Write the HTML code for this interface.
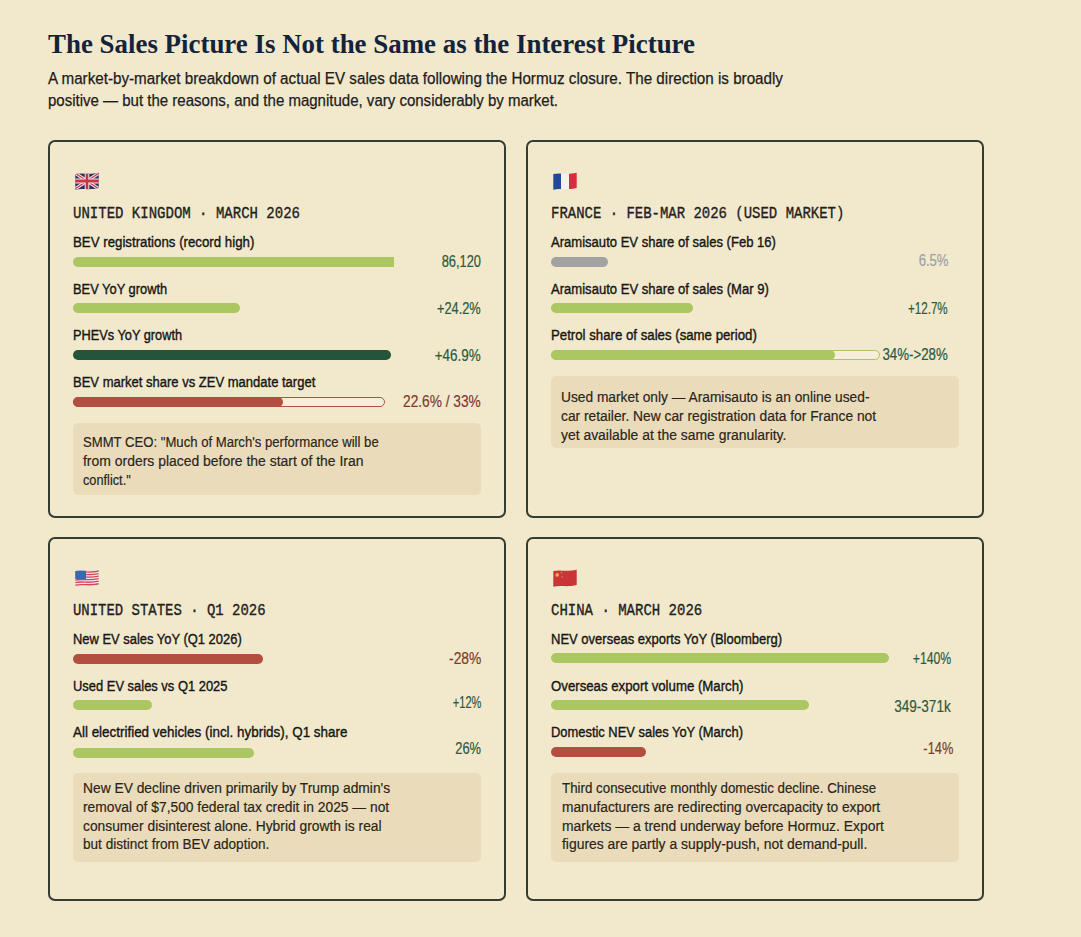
<!DOCTYPE html>
<html><head><meta charset="utf-8"><title>The Sales Picture Is Not the Same as the Interest Picture</title>
<style>
html,body{margin:0;padding:0;}
body{width:1081px;height:937px;background:#f2e8cc;position:relative;overflow:hidden;}
.t{position:absolute;white-space:nowrap;}
.r{position:absolute;}
</style></head><body>
<div class="t" style="left:48px;top:25px;font-family:'Liberation Serif', serif;font-size:27px;line-height:38px;color:#13243a;font-weight:700;transform:scale(0.9963,1.0);transform-origin:left 28px;">The Sales Picture Is Not the Same as the Interest Picture</div>
<div class="t" style="left:48px;top:66.6px;font-family:'Liberation Sans', sans-serif;font-size:16px;line-height:23px;color:#1c1c1c;font-weight:400;transform:scale(0.9492,1.0);transform-origin:left 17px;-webkit-text-stroke:0.25px #1c1c1c;">A market-by-market breakdown of actual EV sales data following the Hormuz closure. The direction is broadly</div>
<div class="t" style="left:48px;top:88.6px;font-family:'Liberation Sans', sans-serif;font-size:16px;line-height:23px;color:#1c1c1c;font-weight:400;transform:scale(0.9385,1.0);transform-origin:left 17px;-webkit-text-stroke:0.25px #1c1c1c;">positive — but the reasons, and the magnitude, vary considerably by market.</div>
<div class="r" style="left:48px;top:140px;width:458px;height:378px;background:#f2e9cd;border-radius:7px;border:2px solid #353c31;box-sizing:border-box;"></div>
<div class="r" style="left:75px;top:171.5px;width:24px;height:18px"><svg width="24" height="18" viewBox="0 0 24 17" preserveAspectRatio="none" style="display:block"><defs><clipPath id="cp1"><path d="M0.3,2 C7,0.2 13,3 23.7,0.6 L23.7,15.2 C13,17.6 7,14.8 0.3,16.8 Z"/></clipPath></defs><g clip-path="url(#cp1)"><rect width="24" height="17" fill="#2b2f5e"/><path d="M0,1 L24,16 M24,1 L0,16" stroke="#f1e6ea" stroke-width="3.2"/><path d="M0,1 L24,16 M24,1 L0,16" stroke="#c8344a" stroke-width="1.1"/><path d="M12,0 V17 M0,8.5 H24" stroke="#f1e6ea" stroke-width="4.6"/><path d="M12,0 V17 M0,8.5 H24" stroke="#cc3444" stroke-width="2.6"/></g></svg></div>
<div class="t" style="left:73px;top:203.8px;font-family:'Liberation Mono', monospace;font-size:14px;line-height:20px;color:#1f2220;font-weight:400;transform:scale(1.0007,1.16);transform-origin:left 14px;-webkit-text-stroke:0.3px #1f2220;">UNITED KINGDOM · MARCH 2026</div>
<div class="t" style="left:73px;top:230.6px;font-family:'Liberation Sans', sans-serif;font-size:15.5px;line-height:22px;color:#161614;font-weight:400;transform:scale(0.8555,1.0);transform-origin:left 16px;-webkit-text-stroke:0.4px #161614;">BEV registrations (record high)</div>
<div class="r" style="left:73px;top:256.5px;width:321px;height:10.0px;background:#aac762;border-radius:0px;border-radius:5px 0 0 5px;"></div>
<div class="t" style="right:600px;top:249.60000000000002px;font-family:'Liberation Sans', sans-serif;font-size:16px;line-height:23px;color:#2b5a3c;font-weight:400;transform:scale(0.8031,1.0);transform-origin:right 17px;-webkit-text-stroke:0.2px #2b5a3c;">86,120</div>
<div class="t" style="left:73px;top:277.7px;font-family:'Liberation Sans', sans-serif;font-size:15.5px;line-height:22px;color:#161614;font-weight:400;transform:scale(0.8302,1.0);transform-origin:left 16px;-webkit-text-stroke:0.4px #161614;">BEV YoY growth</div>
<div class="r" style="left:73px;top:303.4px;width:166.5px;height:10.0px;background:#aac762;border-radius:5px;"></div>
<div class="t" style="right:600px;top:297px;font-family:'Liberation Sans', sans-serif;font-size:16px;line-height:23px;color:#2b5a3c;font-weight:400;transform:scale(0.8005,1.0);transform-origin:right 17px;-webkit-text-stroke:0.2px #2b5a3c;">+24.2%</div>
<div class="t" style="left:73px;top:324.3px;font-family:'Liberation Sans', sans-serif;font-size:15.5px;line-height:22px;color:#161614;font-weight:400;transform:scale(0.8239,1.0);transform-origin:left 16px;-webkit-text-stroke:0.4px #161614;">PHEVs YoY growth</div>
<div class="r" style="left:73px;top:350px;width:318px;height:10px;background:#24543a;border-radius:5px;"></div>
<div class="t" style="right:600px;top:344px;font-family:'Liberation Sans', sans-serif;font-size:16px;line-height:23px;color:#2b5a3c;font-weight:400;transform:scale(0.8407,1.0);transform-origin:right 17px;-webkit-text-stroke:0.2px #2b5a3c;">+46.9%</div>
<div class="t" style="left:73px;top:371px;font-family:'Liberation Sans', sans-serif;font-size:15.5px;line-height:22px;color:#161614;font-weight:400;transform:scale(0.8395,1.0);transform-origin:left 16px;-webkit-text-stroke:0.4px #161614;">BEV market share vs ZEV mandate target</div>
<div class="r" style="left:73px;top:397px;width:311.5px;height:10px;background:#f6eed9;border-radius:5px;border:1.5px solid #b24f40;box-sizing:border-box;"></div>
<div class="r" style="left:73px;top:397px;width:210px;height:10px;background:#b24f40;border-radius:5px;"></div>
<div class="t" style="right:600px;top:390.2px;font-family:'Liberation Sans', sans-serif;font-size:16px;line-height:23px;color:#7d3a2f;font-weight:400;transform:scale(0.8563,1.0);transform-origin:right 17px;-webkit-text-stroke:0.2px #7d3a2f;">22.6% / 33%</div>
<div class="r" style="left:73px;top:422.6px;width:408px;height:72.19999999999999px;background:#eadcbb;border-radius:5px;"></div>
<div class="t" style="left:83.3px;top:430.7px;font-family:'Liberation Sans', sans-serif;font-size:15.5px;line-height:22px;color:#2b2519;font-weight:400;transform:scale(0.8466,1.0);transform-origin:left 16px;-webkit-text-stroke:0.2px #2b2519;">SMMT CEO: "Much of March's performance will be</div>
<div class="t" style="left:83.3px;top:449.7px;font-family:'Liberation Sans', sans-serif;font-size:15.5px;line-height:22px;color:#2b2519;font-weight:400;transform:scale(0.8994,1.0);transform-origin:left 16px;-webkit-text-stroke:0.2px #2b2519;">from orders placed before the start of the Iran</div>
<div class="t" style="left:83.3px;top:468.7px;font-family:'Liberation Sans', sans-serif;font-size:15.5px;line-height:22px;color:#2b2519;font-weight:400;transform:scale(0.8215,1.0);transform-origin:left 16px;-webkit-text-stroke:0.2px #2b2519;">conflict."</div>
<div class="r" style="left:526px;top:140px;width:458px;height:378px;background:#f2e9cd;border-radius:7px;border:2px solid #353c31;box-sizing:border-box;"></div>
<div class="r" style="left:553px;top:171.5px;width:24px;height:18px"><svg width="24" height="18" viewBox="0 0 24 17" preserveAspectRatio="none" style="display:block"><defs><clipPath id="cp2"><path d="M0.3,2 C7,0.2 13,3 23.7,0.6 L23.7,15.2 C13,17.6 7,14.8 0.3,16.8 Z"/></clipPath></defs><g clip-path="url(#cp2)"><rect width="8" height="17" fill="#23489a"/><rect x="8" width="8" height="17" fill="#f4f2f0"/><rect x="16" width="8" height="17" fill="#d42f3c"/></g></svg></div>
<div class="t" style="left:550.5px;top:203.8px;font-family:'Liberation Mono', monospace;font-size:14px;line-height:20px;color:#1f2220;font-weight:400;transform:scale(0.9974,1.16);transform-origin:left 14px;-webkit-text-stroke:0.3px #1f2220;">FRANCE · FEB-MAR 2026 (USED MARKET)</div>
<div class="t" style="left:550.5px;top:230.6px;font-family:'Liberation Sans', sans-serif;font-size:15.5px;line-height:22px;color:#161614;font-weight:400;transform:scale(0.8421,1.0);transform-origin:left 16px;-webkit-text-stroke:0.4px #161614;">Aramisauto EV share of sales (Feb 16)</div>
<div class="r" style="left:550.5px;top:256.7px;width:57.5px;height:10.0px;background:#a2a2a2;border-radius:5px;"></div>
<div class="t" style="right:132.79999999999995px;top:248.7px;font-family:'Liberation Sans', sans-serif;font-size:16px;line-height:23px;color:#9ba0a4;font-weight:400;transform:scale(0.8171,1.0);transform-origin:right 17px;-webkit-text-stroke:0.2px #9ba0a4;">6.5%</div>
<div class="t" style="left:550.5px;top:277.8px;font-family:'Liberation Sans', sans-serif;font-size:15.5px;line-height:22px;color:#161614;font-weight:400;transform:scale(0.8428,1.0);transform-origin:left 16px;-webkit-text-stroke:0.4px #161614;">Aramisauto EV share of sales (Mar 9)</div>
<div class="r" style="left:550.5px;top:303.4px;width:142.20000000000005px;height:10.0px;background:#aac762;border-radius:5px;"></div>
<div class="t" style="right:132.79999999999995px;top:296.5px;font-family:'Liberation Sans', sans-serif;font-size:16px;line-height:23px;color:#2b5a3c;font-weight:400;transform:scale(0.7274,1.0);transform-origin:right 17px;-webkit-text-stroke:0.2px #2b5a3c;">+12.7%</div>
<div class="t" style="left:550.5px;top:324.3px;font-family:'Liberation Sans', sans-serif;font-size:15.5px;line-height:22px;color:#161614;font-weight:400;transform:scale(0.8532,1.0);transform-origin:left 16px;-webkit-text-stroke:0.4px #161614;">Petrol share of sales (same period)</div>
<div class="r" style="left:550.5px;top:350px;width:329.5px;height:10px;background:#f6eed9;border-radius:5px;border:1.5px solid #aac762;box-sizing:border-box;"></div>
<div class="r" style="left:550.5px;top:350px;width:284.5px;height:10px;background:#aac762;border-radius:5px;"></div>
<div class="t" style="right:133px;top:342.6px;font-family:'Liberation Sans', sans-serif;font-size:16px;line-height:23px;color:#2b5a3c;font-weight:400;transform:scale(0.8295,1.0);transform-origin:right 17px;-webkit-text-stroke:0.2px #2b5a3c;">34%-&gt;28%</div>
<div class="r" style="left:550.5px;top:375.8px;width:408.0px;height:72.09999999999997px;background:#eadcbb;border-radius:5px;"></div>
<div class="t" style="left:561.1px;top:386.2px;font-family:'Liberation Sans', sans-serif;font-size:15.5px;line-height:22px;color:#2b2519;font-weight:400;transform:scale(0.8863,1.0);transform-origin:left 16px;-webkit-text-stroke:0.2px #2b2519;">Used market only — Aramisauto is an online used-</div>
<div class="t" style="left:561.1px;top:405.2px;font-family:'Liberation Sans', sans-serif;font-size:15.5px;line-height:22px;color:#2b2519;font-weight:400;transform:scale(0.8899,1.0);transform-origin:left 16px;-webkit-text-stroke:0.2px #2b2519;">car retailer. New car registration data for France not</div>
<div class="t" style="left:561.1px;top:424.2px;font-family:'Liberation Sans', sans-serif;font-size:15.5px;line-height:22px;color:#2b2519;font-weight:400;transform:scale(0.8969,1.0);transform-origin:left 16px;-webkit-text-stroke:0.2px #2b2519;">yet available at the same granularity.</div>
<div class="r" style="left:48px;top:537px;width:458px;height:364px;background:#f2e9cd;border-radius:7px;border:2px solid #353c31;box-sizing:border-box;"></div>
<div class="r" style="left:75px;top:568.5px;width:24px;height:18px"><svg width="24" height="18" viewBox="0 0 24 17" preserveAspectRatio="none" style="display:block"><defs><clipPath id="cp3"><path d="M0.3,2 C7,0.2 13,3 23.7,0.6 L23.7,15.2 C13,17.6 7,14.8 0.3,16.8 Z"/></clipPath></defs><g clip-path="url(#cp3)"><rect width="24" height="17" fill="#f4e8ea"/><path d="M0,0.90 C7,-0.90 13,1.90 24,-0.50" stroke="#cf4a55" stroke-width="1.25" fill="none"/><path d="M0,3.30 C7,1.50 13,4.30 24,1.90" stroke="#cf4a55" stroke-width="1.25" fill="none"/><path d="M0,5.70 C7,3.90 13,6.70 24,4.30" stroke="#cf4a55" stroke-width="1.25" fill="none"/><path d="M0,8.10 C7,6.30 13,9.10 24,6.70" stroke="#cf4a55" stroke-width="1.25" fill="none"/><path d="M0,10.50 C7,8.70 13,11.50 24,9.10" stroke="#cf4a55" stroke-width="1.25" fill="none"/><path d="M0,12.90 C7,11.10 13,13.90 24,11.50" stroke="#cf4a55" stroke-width="1.25" fill="none"/><path d="M0,15.30 C7,13.50 13,16.30 24,13.90" stroke="#cf4a55" stroke-width="1.25" fill="none"/><path d="M0,17.70 C7,15.90 13,18.70 24,16.30" stroke="#cf4a55" stroke-width="1.25" fill="none"/><rect x="0" y="0" width="11" height="9.6" fill="#3d68ab"/></g></svg></div>
<div class="t" style="left:73px;top:601.2px;font-family:'Liberation Mono', monospace;font-size:14px;line-height:20px;color:#1f2220;font-weight:400;transform:scale(0.9962,1.16);transform-origin:left 14px;-webkit-text-stroke:0.3px #1f2220;">UNITED STATES · Q1 2026</div>
<div class="t" style="left:73px;top:627.8px;font-family:'Liberation Sans', sans-serif;font-size:15.5px;line-height:22px;color:#161614;font-weight:400;transform:scale(0.8343,1.0);transform-origin:left 16px;-webkit-text-stroke:0.4px #161614;">New EV sales YoY (Q1 2026)</div>
<div class="r" style="left:73px;top:653.6px;width:189.5px;height:10.0px;background:#b24f40;border-radius:5px;"></div>
<div class="t" style="right:600px;top:646.9px;font-family:'Liberation Sans', sans-serif;font-size:16px;line-height:23px;color:#7d3a2f;font-weight:400;transform:scale(0.8646,1.0);transform-origin:right 17px;-webkit-text-stroke:0.2px #7d3a2f;">-28%</div>
<div class="t" style="left:73px;top:674.5px;font-family:'Liberation Sans', sans-serif;font-size:15.5px;line-height:22px;color:#161614;font-weight:400;transform:scale(0.834,1.0);transform-origin:left 16px;-webkit-text-stroke:0.4px #161614;">Used EV sales vs Q1 2025</div>
<div class="r" style="left:73px;top:700px;width:79px;height:10px;background:#aac762;border-radius:5px;"></div>
<div class="t" style="right:600px;top:690.7px;font-family:'Liberation Sans', sans-serif;font-size:16px;line-height:23px;color:#2b5a3c;font-weight:400;transform:scale(0.6912,1.0);transform-origin:right 17px;-webkit-text-stroke:0.2px #2b5a3c;">+12%</div>
<div class="t" style="left:73px;top:720.6px;font-family:'Liberation Sans', sans-serif;font-size:15.5px;line-height:22px;color:#161614;font-weight:400;transform:scale(0.8656,1.0);transform-origin:left 16px;-webkit-text-stroke:0.4px #161614;">All electrified vehicles (incl. hybrids), Q1 share</div>
<div class="r" style="left:73px;top:748px;width:180.7px;height:10px;background:#aac762;border-radius:5px;"></div>
<div class="t" style="right:600px;top:737px;font-family:'Liberation Sans', sans-serif;font-size:16px;line-height:23px;color:#2b5a3c;font-weight:400;transform:scale(0.8055,1.0);transform-origin:right 17px;-webkit-text-stroke:0.2px #2b5a3c;">26%</div>
<div class="r" style="left:73px;top:772.6px;width:408px;height:89.89999999999998px;background:#eadcbb;border-radius:5px;"></div>
<div class="t" style="left:83.4px;top:776.9px;font-family:'Liberation Sans', sans-serif;font-size:15.5px;line-height:22px;color:#2b2519;font-weight:400;transform:scale(0.8903,1.0);transform-origin:left 16px;-webkit-text-stroke:0.2px #2b2519;">New EV decline driven primarily by Trump admin's</div>
<div class="t" style="left:83.4px;top:795.6999999999999px;font-family:'Liberation Sans', sans-serif;font-size:15.5px;line-height:22px;color:#2b2519;font-weight:400;transform:scale(0.8906,1.0);transform-origin:left 16px;-webkit-text-stroke:0.2px #2b2519;">removal of $7,500 federal tax credit in 2025 — not</div>
<div class="t" style="left:83.4px;top:814.5px;font-family:'Liberation Sans', sans-serif;font-size:15.5px;line-height:22px;color:#2b2519;font-weight:400;transform:scale(0.891,1.0);transform-origin:left 16px;-webkit-text-stroke:0.2px #2b2519;">consumer disinterest alone. Hybrid growth is real</div>
<div class="t" style="left:83.4px;top:833.3px;font-family:'Liberation Sans', sans-serif;font-size:15.5px;line-height:22px;color:#2b2519;font-weight:400;transform:scale(0.8754,1.0);transform-origin:left 16px;-webkit-text-stroke:0.2px #2b2519;">but distinct from BEV adoption.</div>
<div class="r" style="left:526px;top:537px;width:458px;height:364px;background:#f2e9cd;border-radius:7px;border:2px solid #353c31;box-sizing:border-box;"></div>
<div class="r" style="left:553px;top:568.5px;width:24px;height:18px"><svg width="24" height="18" viewBox="0 0 24 17" preserveAspectRatio="none" style="display:block"><defs><clipPath id="cp4"><path d="M0.3,2 C7,0.2 13,3 23.7,0.6 L23.7,15.2 C13,17.6 7,14.8 0.3,16.8 Z"/></clipPath></defs><g clip-path="url(#cp4)"><rect width="24" height="17" fill="#c93436"/><circle cx="4.2" cy="5.6" r="1.8" fill="#f2a247"/><circle cx="8.3" cy="3.4" r="0.75" fill="#f08070"/><circle cx="9.5" cy="5.2" r="0.75" fill="#c05040"/><circle cx="9.2" cy="7.6" r="0.75" fill="#f08070"/></g></svg></div>
<div class="t" style="left:550.5px;top:601.2px;font-family:'Liberation Mono', monospace;font-size:14px;line-height:20px;color:#1f2220;font-weight:400;transform:scale(0.9998,1.16);transform-origin:left 14px;-webkit-text-stroke:0.3px #1f2220;">CHINA · MARCH 2026</div>
<div class="t" style="left:550.5px;top:627.8px;font-family:'Liberation Sans', sans-serif;font-size:15.5px;line-height:22px;color:#161614;font-weight:400;transform:scale(0.8394,1.0);transform-origin:left 16px;-webkit-text-stroke:0.4px #161614;">NEV overseas exports YoY (Bloomberg)</div>
<div class="r" style="left:550.5px;top:653.4px;width:338.29999999999995px;height:10.0px;background:#aac762;border-radius:5px;"></div>
<div class="t" style="right:129.89999999999998px;top:647px;font-family:'Liberation Sans', sans-serif;font-size:16px;line-height:23px;color:#2b5a3c;font-weight:400;transform:scale(0.7659,1.0);transform-origin:right 17px;-webkit-text-stroke:0.2px #2b5a3c;">+140%</div>
<div class="t" style="left:550.5px;top:674.5px;font-family:'Liberation Sans', sans-serif;font-size:15.5px;line-height:22px;color:#161614;font-weight:400;transform:scale(0.8529,1.0);transform-origin:left 16px;-webkit-text-stroke:0.4px #161614;">Overseas export volume (March)</div>
<div class="r" style="left:550.5px;top:700px;width:258.5px;height:10px;background:#aac762;border-radius:5px;"></div>
<div class="t" style="right:129.89999999999998px;top:695.1px;font-family:'Liberation Sans', sans-serif;font-size:16px;line-height:23px;color:#2b5a3c;font-weight:400;transform:scale(0.8468,1.0);transform-origin:right 17px;-webkit-text-stroke:0.2px #2b5a3c;">349-371k</div>
<div class="t" style="left:550.5px;top:720.5px;font-family:'Liberation Sans', sans-serif;font-size:15.5px;line-height:22px;color:#161614;font-weight:400;transform:scale(0.8327,1.0);transform-origin:left 16px;-webkit-text-stroke:0.4px #161614;">Domestic NEV sales YoY (March)</div>
<div class="r" style="left:550.5px;top:746.7px;width:95.29999999999995px;height:10.0px;background:#b24f40;border-radius:5px;"></div>
<div class="t" style="right:128px;top:736.6px;font-family:'Liberation Sans', sans-serif;font-size:16px;line-height:23px;color:#7d3a2f;font-weight:400;transform:scale(0.803,1.0);transform-origin:right 17px;-webkit-text-stroke:0.2px #7d3a2f;">-14%</div>
<div class="r" style="left:550.5px;top:772.6px;width:408.0px;height:89.89999999999998px;background:#eadcbb;border-radius:5px;"></div>
<div class="t" style="left:562.4px;top:776.9px;font-family:'Liberation Sans', sans-serif;font-size:15.5px;line-height:22px;color:#2b2519;font-weight:400;transform:scale(0.8598,1.0);transform-origin:left 16px;-webkit-text-stroke:0.2px #2b2519;">Third consecutive monthly domestic decline. Chinese</div>
<div class="t" style="left:562.4px;top:795.6999999999999px;font-family:'Liberation Sans', sans-serif;font-size:15.5px;line-height:22px;color:#2b2519;font-weight:400;transform:scale(0.8878,1.0);transform-origin:left 16px;-webkit-text-stroke:0.2px #2b2519;">manufacturers are redirecting overcapacity to export</div>
<div class="t" style="left:562.4px;top:814.5px;font-family:'Liberation Sans', sans-serif;font-size:15.5px;line-height:22px;color:#2b2519;font-weight:400;transform:scale(0.8961,1.0);transform-origin:left 16px;-webkit-text-stroke:0.2px #2b2519;">markets — a trend underway before Hormuz. Export</div>
<div class="t" style="left:562.4px;top:833.3px;font-family:'Liberation Sans', sans-serif;font-size:15.5px;line-height:22px;color:#2b2519;font-weight:400;transform:scale(0.8971,1.0);transform-origin:left 16px;-webkit-text-stroke:0.2px #2b2519;">figures are partly a supply-push, not demand-pull.</div>
</body></html>
